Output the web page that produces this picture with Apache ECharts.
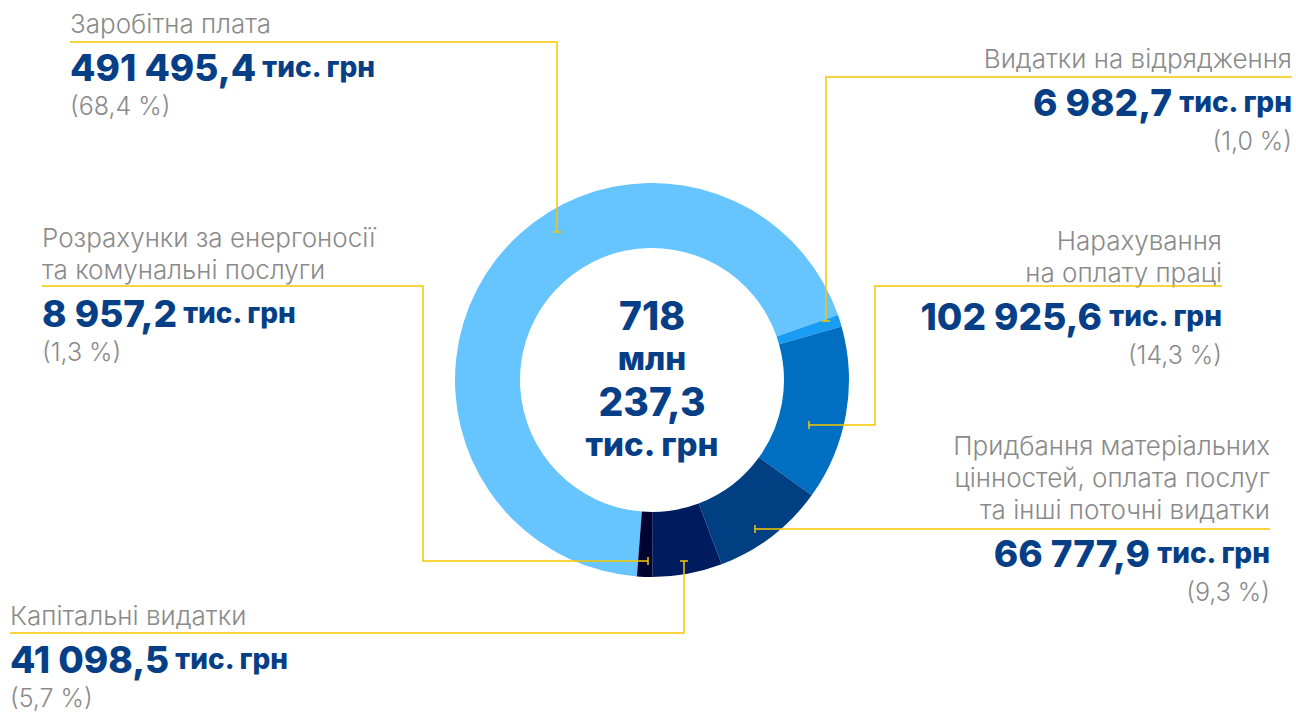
<!DOCTYPE html>
<html>
<head>
<meta charset="utf-8">
<script src="https://cdn.jsdelivr.net/npm/echarts@6/dist/echarts.min.js"></script>
<style>
    html, body {margin: 0; padding: 0; background: #fff;}
    #main {width: 1296px; height: 712px;}
</style>
</head>
<body>
<div id="main"></div>
<script>
// дані
var names = [
    'Заробітна плата',
    'Видатки на відрядження',
    'Нарахування\nна оплату праці',
    'Придбання матеріальних\nцінностей, оплата послуг\nта інші поточні видатки',
    'Капітальні видатки',
    'Розрахунки за енергоносії\nта комунальні послуги'
];
var values = [491495.4, 6982.7, 102925.6, 66777.9, 41098.5, 8957.2];
var shares = [68.4, 1.0, 14.3, 9.3, 5.7, 1.3];
var unit = 'тис. грн';

var colors = ['#66c4ff', '#189cf4', '#006ec1', '#013f83', '#011b5f', '#010431'];
var blue = '#063f86';
var gray = '#8a8a8a';
var yellow = '#f7c600';
var font = 'Inter, "Noto Sans", sans-serif';

// розміщення підписів: x, верх блоку, вирівнювання
var labelPos = [
    [70, 7, 'left'],
    [1292, 42, 'right'],
    [1222, 224, 'right'],
    [1270, 429, 'right'],
    [10, 599, 'left'],
    [42, 221, 'left']
];
// виноски
var leaders = [
    [[70, 42], [557, 42], [557, 232]],
    [[1292, 77], [826, 77], [826, 321]],
    [[1222, 286], [875, 286], [875, 425], [809, 425]],
    [[1270, 529], [755, 529]],
    [[10, 633], [684, 633], [684, 561]],
    [[42, 286], [423, 286], [423, 561], [648, 561]]
];

function fmt(v) {
    var s = v.toFixed(1).split('.');
    var int = s[0].replace(/\B(?=(\d{3})+(?!\d))/g, ' ');
    return int + ',' + s[1];
}

var total = 0;
for (var i = 0; i < values.length; i++) total += values[i];
var mln = Math.floor(total / 1000);
var rest = total - mln * 1000;

var pieData = [];
for (var i = 0; i < values.length; i++) {
    pieData.push({value: values[i], name: names[i], itemStyle: {color: colors[i]}});
}

var graphics = [];
for (var i = 0; i < leaders.length; i++) {
    var pts = leaders[i];
    graphics.push({
        type: 'polyline', silent: true, z: 100,
        shape: {points: pts},
        style: {stroke: yellow, lineWidth: 1.5, fill: null}
    });
    // засічка на кінці
    var a = pts[pts.length - 2], b = pts[pts.length - 1];
    var tick = (a[0] === b[0])
        ? [[b[0] - 4, b[1]], [b[0] + 4, b[1]]]
        : [[b[0], b[1] - 4], [b[0], b[1] + 4]];
    graphics.push({
        type: 'polyline', silent: true, z: 100,
        shape: {points: tick},
        style: {stroke: yellow, lineWidth: 1.5, fill: null}
    });
}
graphics.push({
    type: 'text', silent: true, z: 100,
    x: 652, y: 378,
    style: {
        text: '{a|' + mln + '}\n{b|млн}\n{a|' + fmt(rest) + '}\n{b|' + unit + '}',
        align: 'center', verticalAlign: 'middle',
        rich: {
            a: {fontFamily: font, fontSize: 39, fontWeight: 800, fill: blue, lineHeight: 46, align: 'center'},
            b: {fontFamily: font, fontSize: 33, fontWeight: 800, fill: blue, lineHeight: 40, align: 'center'}
        }
    }
});

var option = {
    backgroundColor: '#fff',
    animation: false,
    graphic: graphics,
    series: [
        {
            type: 'pie',
            center: [652, 380],
            radius: [132, 197],
            startAngle: 265.6,
            clockwise: true,
            avoidLabelOverlap: false,
            silent: true,
            itemStyle: {borderWidth: 0},
            label: {
                show: true,
                formatter: function (p) {
                    var i = p.dataIndex;
                    var lines = names[i].split('\n').map(function (t) { return '{n|' + t + '}'; });
                    return lines.join('\n') + '\n{v|' + fmt(values[i]) + '}{u| ' + unit + '}\n{p|(' + shares[i].toFixed(1).replace('.', ',') + ' %)}';
                },
                rich: {
                    n: {fontFamily: font, fontSize: 26, fontWeight: 300, color: gray, lineHeight: 32},
                    v: {fontFamily: font, fontSize: 37, fontWeight: 800, color: blue, lineHeight: 56},
                    u: {fontFamily: font, fontSize: 28, fontWeight: 800, color: blue, lineHeight: 56},
                    p: {fontFamily: font, fontSize: 25, fontWeight: 300, color: gray, lineHeight: 22}
                }
            },
            labelLine: {show: false},
            labelLayout: function (params) {
                var lp = labelPos[params.dataIndex];
                return {x: lp[0], y: lp[1], align: lp[2], verticalAlign: 'top'};
            },
            data: pieData
        }
    ]
};

var chart = echarts.init(document.getElementById('main'), null, {renderer: 'svg'});
chart.setOption(option);
</script>
</body>
</html>
